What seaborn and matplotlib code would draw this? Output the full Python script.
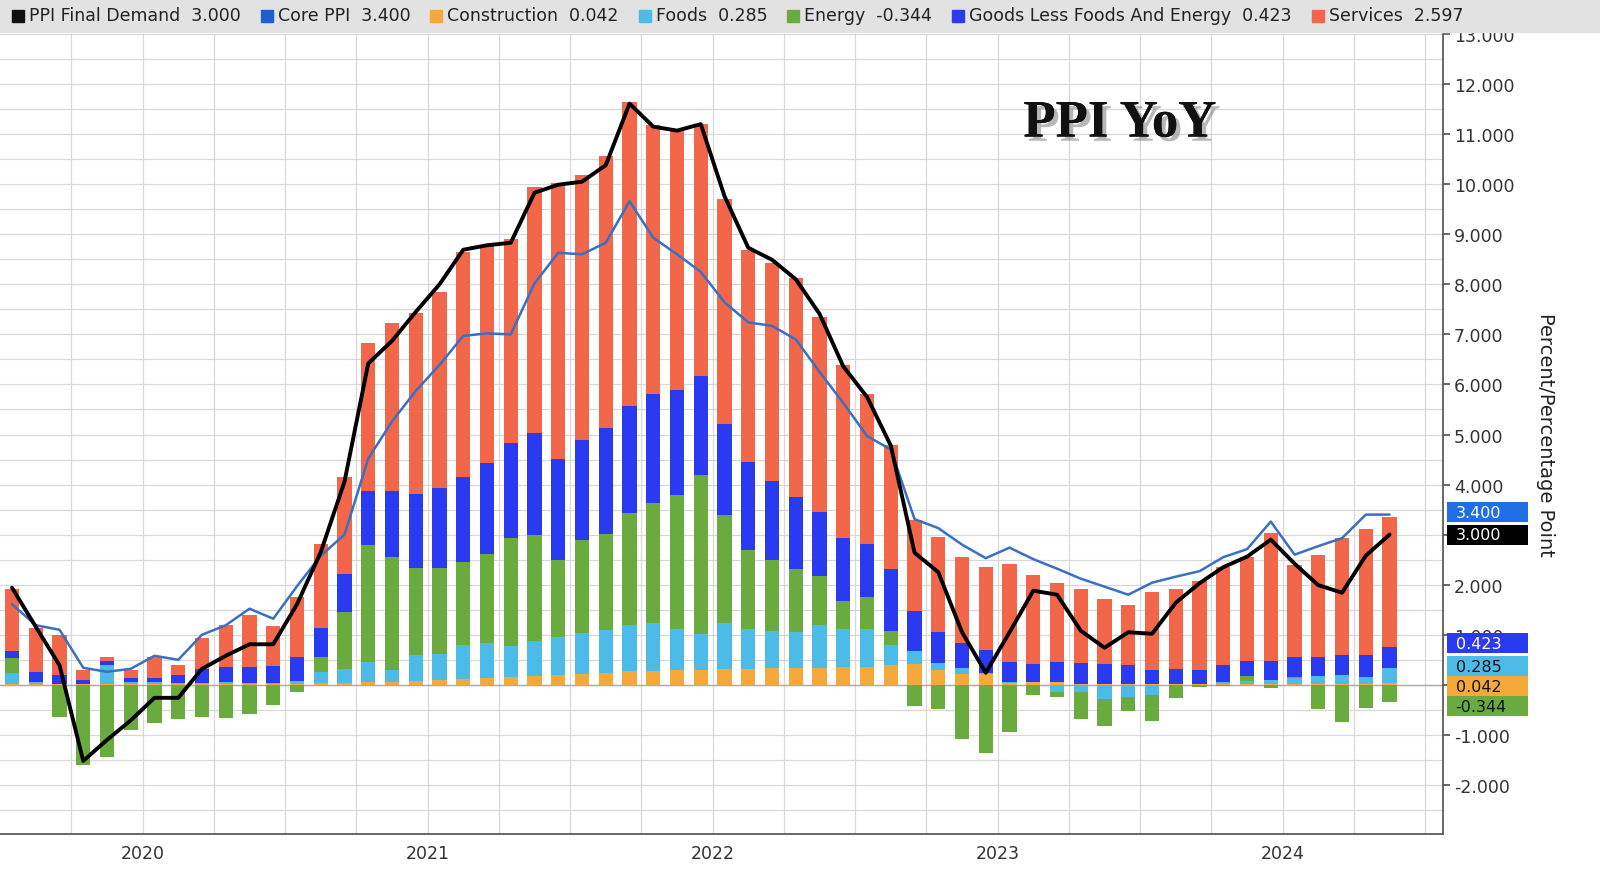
import numpy as np
import pandas as pd
import seaborn as sns
import matplotlib
matplotlib.use("Agg")
import matplotlib.pyplot as plt
import matplotlib.patheffects as pe
import matplotlib.transforms as mtrans

months = pd.date_range("2020-01-01", "2024-11-01", freq="MS")
years = ["2020", "2021", "2022", "2023", "2024"]

construction = [0.02,0.02,0.01,0.01,0.01,0.01,0.01,0.01,0.01,0.01,0.01,0.01,0.02,0.03,
                0.04,0.05,0.06,0.08,0.10,
                0.12,0.14,0.16,0.18,0.20,0.22,0.24,
                0.27,0.28,0.29,0.30,0.31,0.32,0.33,0.34,0.34,0.35,0.36,
                0.40,0.42,0.30,0.22,0.22,
                0.03,0.05,0.05,0.02,0.02,0.02,0.02,0.02,0.02,0.02,0.02,0.02,0.02,0.02,0.02,0.02,0.042]
foods = [0.21,0.03,0.0,0.0,0.38,0.04,0.04,0.02,0.02,0.04,0.02,0.02,0.06,0.22,0.28,0.40,0.24,0.52,0.52,
         0.68,0.70,0.62,0.70,0.76,0.81,0.85,0.92,0.96,0.82,0.71,0.93,0.79,0.74,0.72,0.85,0.76,0.75,0.40,0.25,
         0.13,0.12,0.02,0.02,0.0,-0.15,-0.15,-0.28,-0.25,-0.20,0.0,0.0,0.04,0.05,0.08,0.12,0.15,0.18,0.13,0.285]
energy = [0.3,0.0,-0.65,-1.6,-1.45,-0.9,-0.77,-0.68,-0.65,-0.67,-0.58,-0.4,-0.14,0.3,1.13,2.35,2.26,1.74,1.71,
          1.66,1.78,2.15,2.12,1.54,1.86,1.93,2.24,2.40,2.68,3.19,2.15,1.58,1.43,1.26,0.98,0.57,0.64,0.27,-0.43,
          -0.49,-1.08,-1.36,-0.95,-0.2,-0.1,-0.54,-0.55,-0.27,-0.52,-0.27,-0.05,-0.02,0.10,-0.07,0.02,-0.49,-0.75,-0.46,-0.344]
goods = [0.15,0.2,0.18,0.08,0.08,0.08,0.08,0.16,0.29,0.3,0.32,0.35,0.47,0.58,0.77,1.08,1.31,1.48,1.61,
         1.70,1.81,1.91,2.03,2.01,2.01,2.11,2.14,2.16,2.09,1.97,1.81,1.77,1.58,1.44,1.28,1.26,1.06,1.25,0.81,
         0.62,0.5,0.45,0.4,0.36,0.4,0.42,0.4,0.37,0.28,0.3,0.28,0.34,0.31,0.38,0.39,0.39,0.39,0.44,0.423]
services = [1.23,0.88,0.8,0.21,0.08,0.16,0.42,0.21,0.61,0.84,1.05,0.79,1.2,1.68,1.94,2.94,3.35,3.6,3.9,
            4.48,4.33,4.07,4.91,5.52,5.29,5.44,6.07,5.39,5.23,5.03,4.51,4.22,4.34,4.36,3.89,3.45,2.99,2.48,1.82,
            1.9,1.71,1.66,1.96,1.79,1.59,1.47,1.3,1.21,1.55,1.6,1.77,1.95,2.08,2.55,1.85,2.03,2.35,2.53,2.597]
headline = [1.94,1.16,0.39,-1.52,-1.1,-0.71,-0.26,-0.26,0.32,0.58,0.81,0.81,1.61,2.65,4.06,6.42,6.87,7.45,8.0,
            8.69,8.78,8.83,9.83,9.99,10.05,10.38,11.61,11.15,11.07,11.2,9.76,8.73,8.49,8.1,7.41,6.36,5.75,4.78,2.64,
            2.25,1.05,0.24,1.05,1.88,1.8,1.08,0.74,1.05,1.02,1.64,2.03,2.35,2.56,2.9,2.42,1.99,1.84,2.58,3.0]
core = [1.61,1.19,1.1,0.34,0.26,0.32,0.58,0.5,1.0,1.19,1.52,1.32,1.97,2.58,3.0,4.52,5.26,5.87,6.39,
        6.97,7.02,7.0,8.02,8.63,8.6,8.83,9.66,8.93,8.6,8.25,7.64,7.24,7.17,6.9,6.25,5.63,4.97,4.7,3.31,
        3.13,2.8,2.53,2.74,2.51,2.32,2.12,1.96,1.8,2.04,2.16,2.27,2.55,2.71,3.26,2.6,2.77,2.93,3.4,3.4]

legend_items = [("PPI Final Demand", "3.000", "#111111"), ("Core PPI", "3.400", "#1f5fd6"),
                ("Construction", "0.042", "#f5a93b"), ("Foods", "0.285", "#4dbbe8"),
                ("Energy", "-0.344", "#6aab3f"), ("Goods Less Foods And Energy", "0.423", "#2a3af0"),
                ("Services", "2.597", "#f26649")]

sns.set_theme(style="white")
plt.rcParams['font.family'] = ['DejaVu Sans']

n = len(months)
x = np.arange(n)
df = pd.DataFrame({"x": x, "headline": headline[:n], "core": core[:n]})

fig = plt.figure(figsize=(16, 8.79), dpi=100)
ax = fig.add_axes([0.0, 1 - 835/879, 1443/1600, (835-35)/879])

comps = [construction, foods, energy, goods, services]
cols = ["#f5a93b", "#4dbbe8", "#6aab3f", "#2a3af0", "#f26649"]
pos_b = np.zeros(n); neg_b = np.zeros(n)
for vals, c in zip(comps, cols):
    v = np.array(vals[:n], dtype=float)
    bottom = np.where(v >= 0, pos_b, neg_b)
    ax.bar(x, v, bottom=bottom, width=0.6, color=c, linewidth=0, zorder=2)
    pos_b += np.where(v >= 0, v, 0); neg_b += np.where(v < 0, v, 0)

sns.lineplot(data=df, x="x", y="core", color="#3a6fc4", lw=1.8, ax=ax, zorder=4)
sns.lineplot(data=df, x="x", y="headline", color="#000000", lw=2.8, ax=ax, zorder=5)

ax.set_xlim(-0.505, 60.25)
ax.set_ylim(-2.98, 13.0)
ax.set_yticks(np.arange(-2, 14, 1))
ax.set_yticks(np.arange(-2.5, 13.01, 0.5), minor=True)
ax.yaxis.tick_right()
ax.set_yticklabels([f"{v:.3f}" for v in np.arange(-2, 14, 1)], fontsize=12.5, color="#333333")
ax.tick_params(axis="y", which="major", length=5, color="#555555", pad=3, direction="out")
ax.tick_params(axis="y", which="minor", length=0)
ax.grid(True, which="both", axis="y", color="#d8d8d8", lw=0.9, zorder=0)
for q in np.arange(2.5, 60, 3):
    ax.axvline(q, color="#d8d8d8", lw=0.9, zorder=0)
ax.axhline(0, color="#aaaaaa", lw=1.0, zorder=1)
ax.set_xticks([11.5, 23.5, 35.5, 47.5, 59.5])
ax.set_xticklabels([])
ax.tick_params(axis="x", length=12, color="#555555", direction="out")
for i, yr in enumerate(years):
    ax.text(5.5 + 12*i, -3.35, yr, ha="center", va="center", fontsize=12.5, color="#333333")
ax.set_xlabel(""); ax.set_ylabel("")
for s in ["top", "left"]:
    ax.spines[s].set_visible(False)
ax.spines["right"].set_color("#555555")
ax.spines["bottom"].set_color("#555555")

fig.text(1545/1600, 1 - 435/879, "Percent/Percentage Point", rotation=-90, ha="center", va="center",
         fontsize=14, color="#222222")

t = ax.text(0.776, 0.888, "PPI YoY", transform=ax.transAxes, ha="center", va="center",
            fontsize=38, fontweight="bold", family="Liberation Serif", color="#111111")
t.set_path_effects([pe.withSimplePatchShadow(offset=(3, -3), shadow_rgbFace="#888888", alpha=0.6), pe.Normal()])

# legend strip
fig.patches.append(plt.Rectangle((0, 1 - 33/879), 1, 33/879, transform=fig.transFigure,
                                 color="#e2e2e2", zorder=0))
xpix = 12
r = fig.canvas.get_renderer()
for name, val, c in legend_items:
    fig.patches.append(plt.Rectangle((xpix/1600, 1 - 23/879), 12/1600, 12/879,
                                     transform=fig.transFigure, color=c, zorder=2))
    tt = fig.text((xpix + 17)/1600, 1 - 16/879, f"{name}  {val}", fontsize=12.5, va="center",
                  color="#222222")
    w = tt.get_window_extent(renderer=r).width
    xpix += 17 + w + 20

# right tags: boxes covering the tick labels, like the terminal's value flags
blend = mtrans.blended_transform_factory(ax.transAxes, ax.transData)
x0 = 1447/1443; wbox = 81/1443
tags = [(3.45, "3.400", "#1f6ee6", "white"), (3.0, "3.000", "#000000", "white"),
        (-0.03, "0.042", "#f5a93b", "#111111"), (0.83, "0.423", "#2a3af0", "white"),
        (0.37, "0.285", "#4dbbe8", "#111111"), (-0.43, "-0.344", "#6aab3f", "#111111")]
for k, (yv, lab, bg, fg) in enumerate(tags):
    ax.add_patch(plt.Rectangle((x0, yv - 0.2), wbox, 0.4, transform=blend, facecolor=bg,
                               edgecolor="none", clip_on=False, zorder=10 + 2*k))
    ax.text(x0 + 0.006, yv, lab, transform=blend, ha="left", va="center", fontsize=11.5,
            color=fg, clip_on=False, zorder=11 + 2*k)

fig.savefig("out.png", dpi=100)
